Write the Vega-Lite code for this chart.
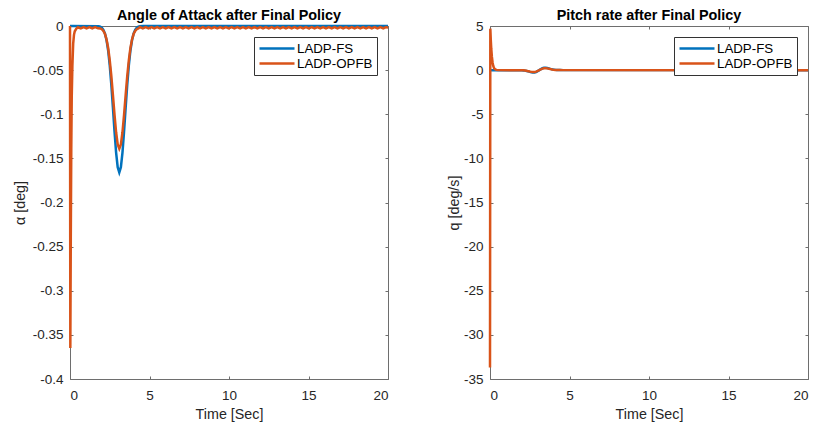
{
  "$schema": "https://vega.github.io/schema/vega-lite/v6.json",
  "padding": {"left": 12, "top": 7, "right": 0, "bottom": 0},
  "spacing": 52,
  "background": "white",
  "config": {
    "font": "Liberation Sans",
    "view": {"stroke": "#6e6e6e", "strokeWidth": 1},
    "title": {"font": "Liberation Sans", "fontSize": 14.4, "fontWeight": "bold", "color": "#000000", "offset": -4, "anchor": "middle"},
    "axis": {
      "domain": false, "grid": false, "ticks": true, "tickSize": -3, "tickColor": "#6e6e6e", "tickWidth": 1,
      "labelFont": "Liberation Sans", "labelFontSize": 13.5, "labelColor": "#262626", "labelPadding": 10,
      "titleFont": "Liberation Sans", "titleFontSize": 14.3, "titleFontWeight": "normal", "titleColor": "#262626"
    },
    "axisX": {"labelPadding": 12},
    "legend": {
      "orient": "top-right", "offset": 11, "symbolType": "stroke", "symbolSize": 1225, "symbolStrokeWidth": 2.5,
      "clipHeight": 15, "rowPadding": 0, "labelFont": "Liberation Sans", "labelFontSize": 13.3, "labelColor": "#000000",
      "labelOffset": 1, "padding": 4, "strokeColor": "#333333", "fillColor": "white"
    }
  },
  "datasets": {
    "alpha": [
      {"t":0,"v":0,"s":"LADP-FS"},{"t":1.8,"v":-0.0003,"s":"LADP-FS"},{"t":1.9,"v":-0.0008,"s":"LADP-FS"},{"t":2.0,"v":-0.002,"s":"LADP-FS"},
      {"t":2.1,"v":-0.0043,"s":"LADP-FS"},{"t":2.2,"v":-0.0086,"s":"LADP-FS"},{"t":2.3,"v":-0.0161,"s":"LADP-FS"},{"t":2.4,"v":-0.0277,"s":"LADP-FS"},
      {"t":2.5,"v":-0.0447,"s":"LADP-FS"},{"t":2.6,"v":-0.0666,"s":"LADP-FS"},{"t":2.7,"v":-0.0926,"s":"LADP-FS"},{"t":2.8,"v":-0.1195,"s":"LADP-FS"},
      {"t":2.9,"v":-0.1434,"s":"LADP-FS"},{"t":3.0,"v":-0.160,"s":"LADP-FS"},{"t":3.1,"v":-0.166,"s":"LADP-FS"},{"t":3.2,"v":-0.160,"s":"LADP-FS"},
      {"t":3.3,"v":-0.1434,"s":"LADP-FS"},{"t":3.4,"v":-0.1195,"s":"LADP-FS"},{"t":3.5,"v":-0.0926,"s":"LADP-FS"},{"t":3.6,"v":-0.0666,"s":"LADP-FS"},
      {"t":3.7,"v":-0.0447,"s":"LADP-FS"},{"t":3.8,"v":-0.0277,"s":"LADP-FS"},{"t":3.9,"v":-0.0161,"s":"LADP-FS"},{"t":4.0,"v":-0.0086,"s":"LADP-FS"},
      {"t":4.1,"v":-0.0043,"s":"LADP-FS"},{"t":4.2,"v":-0.002,"s":"LADP-FS"},{"t":4.3,"v":-0.0008,"s":"LADP-FS"},{"t":4.4,"v":-0.0003,"s":"LADP-FS"},
      {"t":4.6,"v":0,"s":"LADP-FS"},{"t":20,"v":0,"s":"LADP-FS"},

      {"t":0,"v":0,"s":"LADP-OPFB"},{"t":0.02,"v":-0.365,"s":"LADP-OPFB"},{"t":0.05,"v":-0.24,"s":"LADP-OPFB"},{"t":0.08,"v":-0.14,"s":"LADP-OPFB"},
      {"t":0.11,"v":-0.08,"s":"LADP-OPFB"},{"t":0.15,"v":-0.045,"s":"LADP-OPFB"},{"t":0.2,"v":-0.02,"s":"LADP-OPFB"},{"t":0.25,"v":-0.01,"s":"LADP-OPFB"},
      {"t":0.3,"v":-0.006,"s":"LADP-OPFB"},{"t":0.4,"v":-0.003,"s":"LADP-OPFB"},{"t":0.5,"v":-0.0014,"s":"LADP-OPFB"},{"t":0.68,"v":-0.0028,"s":"LADP-OPFB"},
      {"t":0.86,"v":-0.0012,"s":"LADP-OPFB"},{"t":1.04,"v":-0.0028,"s":"LADP-OPFB"},{"t":1.22,"v":-0.0012,"s":"LADP-OPFB"},{"t":1.4,"v":-0.0028,"s":"LADP-OPFB"},
      {"t":1.58,"v":-0.0012,"s":"LADP-OPFB"},{"t":1.76,"v":-0.0026,"s":"LADP-OPFB"},{"t":1.9,"v":-0.0027,"s":"LADP-OPFB"},{"t":2.0,"v":-0.0036,"s":"LADP-OPFB"},
      {"t":2.1,"v":-0.0056,"s":"LADP-OPFB"},{"t":2.2,"v":-0.0091,"s":"LADP-OPFB"},{"t":2.3,"v":-0.0153,"s":"LADP-OPFB"},{"t":2.4,"v":-0.0249,"s":"LADP-OPFB"},
      {"t":2.5,"v":-0.0389,"s":"LADP-OPFB"},{"t":2.6,"v":-0.0569,"s":"LADP-OPFB"},{"t":2.7,"v":-0.0784,"s":"LADP-OPFB"},{"t":2.8,"v":-0.1006,"s":"LADP-OPFB"},
      {"t":2.9,"v":-0.1204,"s":"LADP-OPFB"},{"t":3.0,"v":-0.1341,"s":"LADP-OPFB"},{"t":3.1,"v":-0.139,"s":"LADP-OPFB"},{"t":3.2,"v":-0.1341,"s":"LADP-OPFB"},
      {"t":3.3,"v":-0.1204,"s":"LADP-OPFB"},{"t":3.4,"v":-0.1006,"s":"LADP-OPFB"},{"t":3.5,"v":-0.0784,"s":"LADP-OPFB"},{"t":3.6,"v":-0.0569,"s":"LADP-OPFB"},
      {"t":3.7,"v":-0.0389,"s":"LADP-OPFB"},{"t":3.8,"v":-0.0249,"s":"LADP-OPFB"},{"t":3.9,"v":-0.0153,"s":"LADP-OPFB"},{"t":4.0,"v":-0.0091,"s":"LADP-OPFB"},
      {"t":4.1,"v":-0.0056,"s":"LADP-OPFB"},{"t":4.2,"v":-0.0036,"s":"LADP-OPFB"},{"t":4.3,"v":-0.0027,"s":"LADP-OPFB"},
      {"t":4.4,"v":-0.0012,"s":"LADP-OPFB"},{"t":4.58,"v":-0.0028,"s":"LADP-OPFB"},{"t":4.76,"v":-0.0012,"s":"LADP-OPFB"},{"t":4.94,"v":-0.0028,"s":"LADP-OPFB"},
      {"t":5.12,"v":-0.0012,"s":"LADP-OPFB"},{"t":5.3,"v":-0.0028,"s":"LADP-OPFB"},{"t":5.48,"v":-0.0012,"s":"LADP-OPFB"},{"t":5.66,"v":-0.0028,"s":"LADP-OPFB"},
      {"t":5.84,"v":-0.0012,"s":"LADP-OPFB"},{"t":6.02,"v":-0.0028,"s":"LADP-OPFB"},{"t":6.2,"v":-0.0012,"s":"LADP-OPFB"},{"t":6.38,"v":-0.0028,"s":"LADP-OPFB"},
      {"t":6.56,"v":-0.0012,"s":"LADP-OPFB"},{"t":6.74,"v":-0.0028,"s":"LADP-OPFB"},{"t":6.92,"v":-0.0012,"s":"LADP-OPFB"},{"t":7.1,"v":-0.0028,"s":"LADP-OPFB"},
      {"t":7.28,"v":-0.0012,"s":"LADP-OPFB"},{"t":7.46,"v":-0.0028,"s":"LADP-OPFB"},{"t":7.64,"v":-0.0012,"s":"LADP-OPFB"},{"t":7.82,"v":-0.0028,"s":"LADP-OPFB"},
      {"t":8.0,"v":-0.0012,"s":"LADP-OPFB"},{"t":8.18,"v":-0.0028,"s":"LADP-OPFB"},{"t":8.36,"v":-0.0012,"s":"LADP-OPFB"},{"t":8.54,"v":-0.0028,"s":"LADP-OPFB"},
      {"t":8.72,"v":-0.0012,"s":"LADP-OPFB"},{"t":8.9,"v":-0.0028,"s":"LADP-OPFB"},{"t":9.08,"v":-0.0012,"s":"LADP-OPFB"},{"t":9.26,"v":-0.0028,"s":"LADP-OPFB"},
      {"t":9.44,"v":-0.0012,"s":"LADP-OPFB"},{"t":9.62,"v":-0.0028,"s":"LADP-OPFB"},{"t":9.8,"v":-0.0012,"s":"LADP-OPFB"},{"t":9.98,"v":-0.0028,"s":"LADP-OPFB"},
      {"t":10.16,"v":-0.0012,"s":"LADP-OPFB"},{"t":10.34,"v":-0.0028,"s":"LADP-OPFB"},{"t":10.52,"v":-0.0012,"s":"LADP-OPFB"},{"t":10.7,"v":-0.0028,"s":"LADP-OPFB"},
      {"t":10.88,"v":-0.0012,"s":"LADP-OPFB"},{"t":11.06,"v":-0.0028,"s":"LADP-OPFB"},{"t":11.24,"v":-0.0012,"s":"LADP-OPFB"},{"t":11.42,"v":-0.0028,"s":"LADP-OPFB"},
      {"t":11.6,"v":-0.0012,"s":"LADP-OPFB"},{"t":11.78,"v":-0.0028,"s":"LADP-OPFB"},{"t":11.96,"v":-0.0012,"s":"LADP-OPFB"},{"t":12.14,"v":-0.0028,"s":"LADP-OPFB"},
      {"t":12.32,"v":-0.0012,"s":"LADP-OPFB"},{"t":12.5,"v":-0.0028,"s":"LADP-OPFB"},{"t":12.68,"v":-0.0012,"s":"LADP-OPFB"},{"t":12.86,"v":-0.0028,"s":"LADP-OPFB"},
      {"t":13.04,"v":-0.0012,"s":"LADP-OPFB"},{"t":13.22,"v":-0.0028,"s":"LADP-OPFB"},{"t":13.4,"v":-0.0012,"s":"LADP-OPFB"},{"t":13.58,"v":-0.0028,"s":"LADP-OPFB"},
      {"t":13.76,"v":-0.0012,"s":"LADP-OPFB"},{"t":13.94,"v":-0.0028,"s":"LADP-OPFB"},{"t":14.12,"v":-0.0012,"s":"LADP-OPFB"},{"t":14.3,"v":-0.0028,"s":"LADP-OPFB"},
      {"t":14.48,"v":-0.0012,"s":"LADP-OPFB"},{"t":14.66,"v":-0.0028,"s":"LADP-OPFB"},{"t":14.84,"v":-0.0012,"s":"LADP-OPFB"},{"t":15.02,"v":-0.0028,"s":"LADP-OPFB"},
      {"t":15.2,"v":-0.0012,"s":"LADP-OPFB"},{"t":15.38,"v":-0.0028,"s":"LADP-OPFB"},{"t":15.56,"v":-0.0012,"s":"LADP-OPFB"},{"t":15.74,"v":-0.0028,"s":"LADP-OPFB"},
      {"t":15.92,"v":-0.0012,"s":"LADP-OPFB"},{"t":16.1,"v":-0.0028,"s":"LADP-OPFB"},{"t":16.28,"v":-0.0012,"s":"LADP-OPFB"},{"t":16.46,"v":-0.0028,"s":"LADP-OPFB"},
      {"t":16.64,"v":-0.0012,"s":"LADP-OPFB"},{"t":16.82,"v":-0.0028,"s":"LADP-OPFB"},{"t":17.0,"v":-0.0012,"s":"LADP-OPFB"},{"t":17.18,"v":-0.0028,"s":"LADP-OPFB"},
      {"t":17.36,"v":-0.0012,"s":"LADP-OPFB"},{"t":17.54,"v":-0.0028,"s":"LADP-OPFB"},{"t":17.72,"v":-0.0012,"s":"LADP-OPFB"},{"t":17.9,"v":-0.0028,"s":"LADP-OPFB"},
      {"t":18.08,"v":-0.0012,"s":"LADP-OPFB"},{"t":18.26,"v":-0.0028,"s":"LADP-OPFB"},{"t":18.44,"v":-0.0012,"s":"LADP-OPFB"},{"t":18.62,"v":-0.0028,"s":"LADP-OPFB"},
      {"t":18.8,"v":-0.0012,"s":"LADP-OPFB"},{"t":18.98,"v":-0.0028,"s":"LADP-OPFB"},{"t":19.16,"v":-0.0012,"s":"LADP-OPFB"},{"t":19.34,"v":-0.0028,"s":"LADP-OPFB"},
      {"t":19.52,"v":-0.0012,"s":"LADP-OPFB"},{"t":19.7,"v":-0.0028,"s":"LADP-OPFB"},{"t":19.88,"v":-0.0012,"s":"LADP-OPFB"},{"t":20,"v":-0.0022,"s":"LADP-OPFB"}
    ],
    "q": [
      {"t":0,"v":0,"s":"LADP-FS"},{"t":1.8,"v":-0.003,"s":"LADP-FS"},{"t":1.9,"v":-0.007,"s":"LADP-FS"},{"t":2.0,"v":-0.016,"s":"LADP-FS"},
      {"t":2.1,"v":-0.032,"s":"LADP-FS"},{"t":2.2,"v":-0.057,"s":"LADP-FS"},{"t":2.3,"v":-0.094,"s":"LADP-FS"},{"t":2.4,"v":-0.142,"s":"LADP-FS"},
      {"t":2.5,"v":-0.196,"s":"LADP-FS"},{"t":2.6,"v":-0.243,"s":"LADP-FS"},{"t":2.7,"v":-0.27,"s":"LADP-FS"},{"t":2.8,"v":-0.262,"s":"LADP-FS"},
      {"t":2.9,"v":-0.209,"s":"LADP-FS"},{"t":3.0,"v":-0.117,"s":"LADP-FS"},{"t":3.1,"v":0,"s":"LADP-FS"},{"t":3.2,"v":0.117,"s":"LADP-FS"},
      {"t":3.3,"v":0.209,"s":"LADP-FS"},{"t":3.4,"v":0.262,"s":"LADP-FS"},{"t":3.5,"v":0.27,"s":"LADP-FS"},{"t":3.6,"v":0.243,"s":"LADP-FS"},
      {"t":3.7,"v":0.196,"s":"LADP-FS"},{"t":3.8,"v":0.142,"s":"LADP-FS"},{"t":3.9,"v":0.094,"s":"LADP-FS"},{"t":4.0,"v":0.057,"s":"LADP-FS"},
      {"t":4.1,"v":0.032,"s":"LADP-FS"},{"t":4.2,"v":0.016,"s":"LADP-FS"},{"t":4.3,"v":0.007,"s":"LADP-FS"},{"t":4.4,"v":0.003,"s":"LADP-FS"},
      {"t":4.6,"v":0,"s":"LADP-FS"},{"t":20,"v":0,"s":"LADP-FS"},

      {"t":0,"v":-33.7,"s":"LADP-OPFB"},{"t":0.02,"v":4.7,"s":"LADP-OPFB"},{"t":0.05,"v":3.4,"s":"LADP-OPFB"},{"t":0.08,"v":2.4,"s":"LADP-OPFB"},
      {"t":0.12,"v":1.5,"s":"LADP-OPFB"},{"t":0.16,"v":0.9,"s":"LADP-OPFB"},{"t":0.2,"v":0.5,"s":"LADP-OPFB"},{"t":0.25,"v":0.25,"s":"LADP-OPFB"},
      {"t":0.3,"v":0.12,"s":"LADP-OPFB"},{"t":0.4,"v":0.03,"s":"LADP-OPFB"},{"t":0.5,"v":0,"s":"LADP-OPFB"},{"t":1.8,"v":-0.002,"s":"LADP-OPFB"},
      {"t":1.9,"v":-0.006,"s":"LADP-OPFB"},{"t":2.0,"v":-0.013,"s":"LADP-OPFB"},{"t":2.1,"v":-0.026,"s":"LADP-OPFB"},{"t":2.2,"v":-0.047,"s":"LADP-OPFB"},
      {"t":2.3,"v":-0.078,"s":"LADP-OPFB"},{"t":2.4,"v":-0.117,"s":"LADP-OPFB"},{"t":2.5,"v":-0.162,"s":"LADP-OPFB"},{"t":2.6,"v":-0.2,"s":"LADP-OPFB"},
      {"t":2.7,"v":-0.223,"s":"LADP-OPFB"},{"t":2.8,"v":-0.216,"s":"LADP-OPFB"},{"t":2.9,"v":-0.172,"s":"LADP-OPFB"},{"t":3.0,"v":-0.097,"s":"LADP-OPFB"},
      {"t":3.1,"v":0,"s":"LADP-OPFB"},{"t":3.2,"v":0.097,"s":"LADP-OPFB"},{"t":3.3,"v":0.172,"s":"LADP-OPFB"},{"t":3.4,"v":0.216,"s":"LADP-OPFB"},
      {"t":3.5,"v":0.223,"s":"LADP-OPFB"},{"t":3.6,"v":0.2,"s":"LADP-OPFB"},{"t":3.7,"v":0.162,"s":"LADP-OPFB"},{"t":3.8,"v":0.117,"s":"LADP-OPFB"},
      {"t":3.9,"v":0.078,"s":"LADP-OPFB"},{"t":4.0,"v":0.047,"s":"LADP-OPFB"},{"t":4.1,"v":0.026,"s":"LADP-OPFB"},{"t":4.2,"v":0.013,"s":"LADP-OPFB"},
      {"t":4.3,"v":0.006,"s":"LADP-OPFB"},{"t":4.4,"v":0.002,"s":"LADP-OPFB"},{"t":4.6,"v":0,"s":"LADP-OPFB"},{"t":20,"v":0,"s":"LADP-OPFB"}
    ]
  },
  "resolve": {"scale": {"color": "independent"}, "legend": {"color": "independent"}},
  "hconcat": [
    {
      "title": "Angle of Attack after Final Policy",
      "width": 318,
      "height": 353,
      "data": {"name": "alpha"},
      "layer": [
        {
          "mark": {"type": "line", "strokeWidth": 2.5, "clip": false},
          "encoding": {
            "x": {"field": "t", "type": "quantitative", "scale": {"domain": [0, 20], "nice": false},
                  "axis": {"title": "Time [Sec]", "values": [0, 5, 10, 15, 20], "titlePadding": 6}},
            "y": {"field": "v", "type": "quantitative", "scale": {"domain": [-0.4, 0], "nice": false, "zero": false},
                  "axis": {"title": "α [deg]", "values": [-0.4, -0.35, -0.3, -0.25, -0.2, -0.15, -0.1, -0.05, 0], "labelExpr": "'' + datum.value", "titlePadding": 5}},
            "color": {"field": "s", "type": "nominal",
                      "scale": {"domain": ["LADP-FS", "LADP-OPFB"], "range": ["#0072BD", "#D95319"]},
                      "legend": {"title": null}}
          }
        },
        {
          "mark": {"type": "line", "opacity": 0},
          "encoding": {
            "x": {"field": "t", "type": "quantitative", "axis": {"orient": "top", "labels": false, "title": null, "values": [0, 5, 10, 15, 20]}},
            "y": {"field": "v", "type": "quantitative", "axis": {"orient": "right", "labels": false, "title": null, "values": [-0.4, -0.35, -0.3, -0.25, -0.2, -0.15, -0.1, -0.05, 0]}}
          }
        }
      ],
      "resolve": {"axis": {"x": "independent", "y": "independent"}}
    },
    {
      "title": "Pitch rate after Final Policy",
      "width": 318,
      "height": 353,
      "data": {"name": "q"},
      "layer": [
        {
          "mark": {"type": "line", "strokeWidth": 2.5, "clip": false},
          "encoding": {
            "x": {"field": "t", "type": "quantitative", "scale": {"domain": [0, 20], "nice": false},
                  "axis": {"title": "Time [Sec]", "values": [0, 5, 10, 15, 20], "titlePadding": 6}},
            "y": {"field": "v", "type": "quantitative", "scale": {"domain": [-35, 5], "nice": false, "zero": false},
                  "axis": {"title": "q [deg/s]", "values": [-35, -30, -25, -20, -15, -10, -5, 0, 5], "labelExpr": "'' + datum.value", "titlePadding": 2}},
            "color": {"field": "s", "type": "nominal",
                      "scale": {"domain": ["LADP-FS", "LADP-OPFB"], "range": ["#0072BD", "#D95319"]},
                      "legend": {"title": null}}
          }
        },
        {
          "mark": {"type": "line", "opacity": 0},
          "encoding": {
            "x": {"field": "t", "type": "quantitative", "axis": {"orient": "top", "labels": false, "title": null, "values": [0, 5, 10, 15, 20]}},
            "y": {"field": "v", "type": "quantitative", "axis": {"orient": "right", "labels": false, "title": null, "values": [-35, -30, -25, -20, -15, -10, -5, 0, 5]}}
          }
        }
      ],
      "resolve": {"axis": {"x": "independent", "y": "independent"}}
    }
  ]
}
